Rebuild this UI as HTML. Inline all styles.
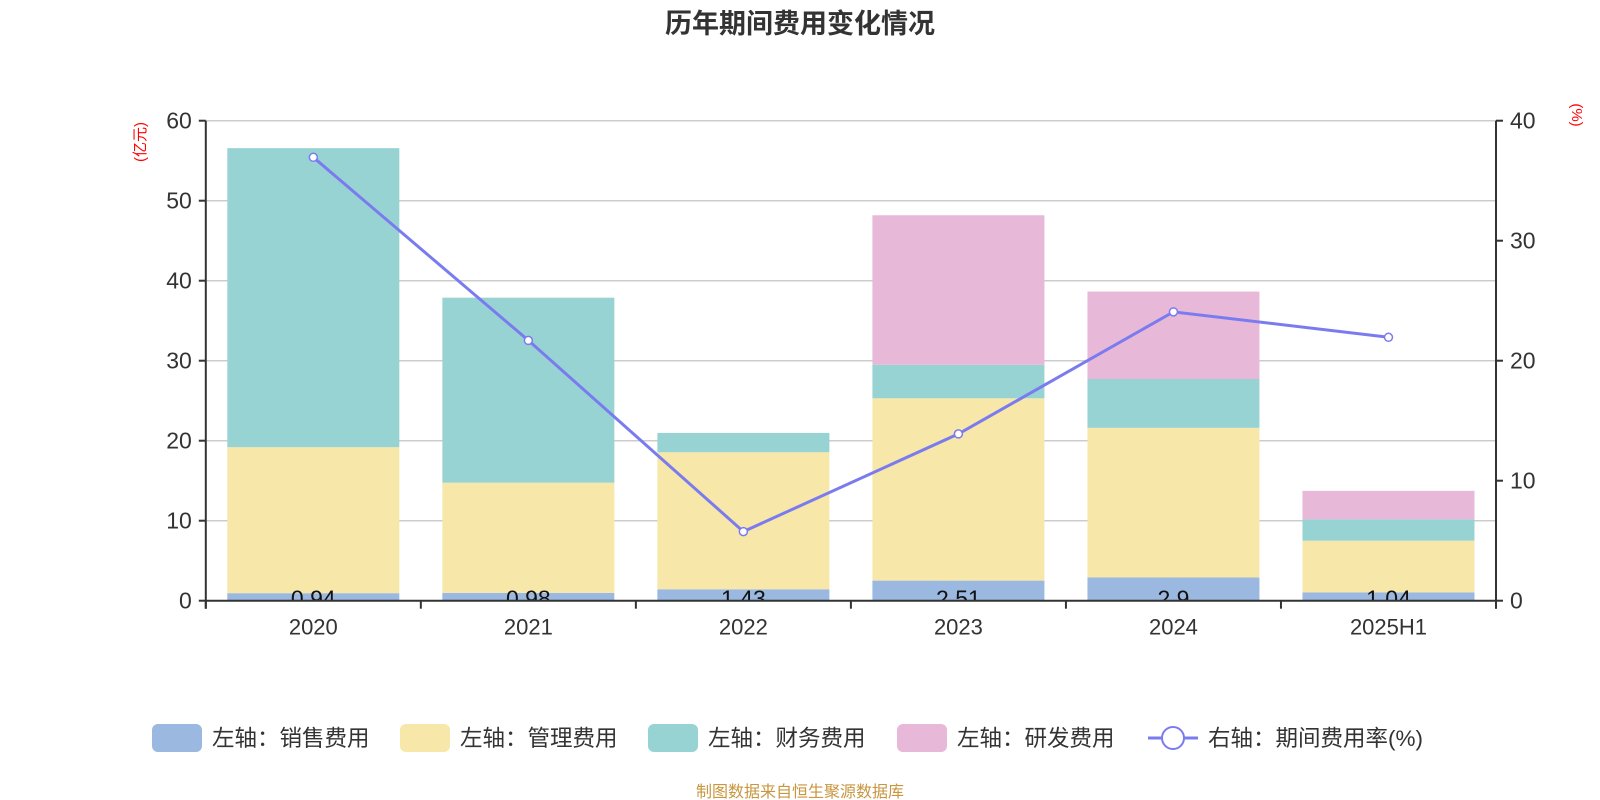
<!DOCTYPE html>
<html><head><meta charset="utf-8">
<style>
body{margin:0;background:#fff;}
svg{display:block;font-family:"Liberation Sans","Noto Sans CJK SC",sans-serif;}
</style></head>
<body>
<svg id="chart" width="1600" height="800">
<text x="800" y="33" text-anchor="middle" font-size="27" font-weight="bold" fill="#333">历年期间费用变化情况</text>
<text transform="translate(145,142) rotate(-90)" text-anchor="middle" font-size="15" fill="#f00">(亿元)</text>
<text transform="translate(1572,115) rotate(90)" text-anchor="middle" font-size="15" fill="#f00">(%)</text>
<g id="grid"></g><g id="bars"></g><g id="axes"></g><g id="line"></g>
<g id="legend"></g>
<text x="800" y="797" text-anchor="middle" font-size="16" fill="#c8963e">制图数据来自恒生聚源数据库</text>
</svg>
<script>
const categories=["2020","2021","2022","2023","2024","2025H1"];
const sales=[0.94,0.98,1.43,2.51,2.9,1.04];
const mgmt=[18.25,13.77,17.13,22.79,18.71,6.46];
const finance=[37.38,23.13,2.41,4.19,6.1,2.67];
const rd=[0,0,0,18.69,10.93,3.56];
const rate=[36.95,21.69,5.76,13.9,24.07,21.95];
const leftTicks=[0,10,20,30,40,50,60];
const rightTicks=[0,10,20,30,40];

const NS="http://www.w3.org/2000/svg";
const X0=205.8,X1=1496,Y0=600.7,Y1=120.7;
const band=(X1-X0)/categories.length,bw=172;
const yL=v=>Y0-(v/60)*(Y0-Y1);
const yR=v=>Y0-(v/40)*(Y0-Y1);
const xC=i=>X0+band*(i+0.5);
function mk(tag,attrs,parent,txt){const e=document.createElementNS(NS,tag);for(const k in attrs)e.setAttribute(k,attrs[k]);if(txt!==undefined)e.textContent=txt;parent.appendChild(e);return e;}
const grid=document.getElementById('grid'),bars=document.getElementById('bars'),axes=document.getElementById('axes'),line=document.getElementById('line'),legend=document.getElementById('legend');
const defs=mk('defs',{},document.getElementById('chart'));
const cp=mk('clipPath',{id:'plotclip'},defs);mk('rect',{x:X0,y:0,width:X1-X0,height:Y0},cp);

leftTicks.forEach(v=>{
 const g=mk('line',{x1:X0,x2:X1,y1:yL(v),y2:yL(v),stroke:'#ccc','stroke-width':1.5},grid);
 
 mk('line',{x1:X0-7,x2:X0,y1:yL(v),y2:yL(v),stroke:'#333','stroke-width':2},axes);
 const t=mk('text',{x:X0-14,y:yL(v)+8,'text-anchor':'end','font-size':23,fill:'#333'},axes,v);
 
});
rightTicks.forEach(v=>{
 mk('line',{x1:X1,x2:X1+7,y1:yR(v),y2:yR(v),stroke:'#333','stroke-width':2},axes);
 const t=mk('text',{x:X1+14,y:yR(v)+8,'font-size':23,fill:'#333'},axes,v);
 
});
mk('line',{x1:X0,x2:X0,y1:Y1,y2:Y0+8,stroke:'#333','stroke-width':2},axes);
mk('line',{x1:X1,x2:X1,y1:Y1,y2:Y0+8,stroke:'#333','stroke-width':2},axes);
mk('line',{x1:X0,x2:X1,y1:Y0,y2:Y0,stroke:'#333','stroke-width':2},axes);
for(let i=0;i<=categories.length;i++)mk('line',{x1:X0+band*i,x2:X0+band*i,y1:Y0,y2:Y0+8,stroke:'#333','stroke-width':2},axes);

const series=[[sales,'#9bb8e0','sales'],[mgmt,'#f7e7a9','mgmt'],[finance,'#97d3d3','finance'],[rd,'#e7b8d8','rd']];
categories.forEach((c,i)=>{
 let acc=0;
 series.forEach(([arr,col,nm])=>{
  const v=arr[i];if(v<=0)return;
  const r=mk('rect',{x:xC(i)-bw/2,y:yL(acc+v),width:bw,height:yL(acc)-yL(acc+v),fill:col},bars);
  
  acc+=v;
 });
 const t=mk('text',{x:xC(i),y:Y0+6,'text-anchor':'middle','font-size':23,fill:'#111','clip-path':'url(#plotclip)'},bars,String(sales[i]));
 
 const xl=mk('text',{x:xC(i),y:Y0+34,'text-anchor':'middle','font-size':22,fill:'#333'},axes,c);
 
});
const pts=rate.map((v,i)=>xC(i)+','+yR(v)).join(' ');
const pl=mk('polyline',{points:pts,fill:'none',stroke:'#7b7bf0','stroke-width':3},line);

rate.forEach((v,i)=>{
 const c=mk('circle',{cx:xC(i),cy:yR(v),r:4,fill:'#fff',stroke:'#7b7bf0','stroke-width':1.5},line);
 
});
const items=[['左轴：销售费用','#9bb8e0',152],['左轴：管理费用','#f7e7a9',400],['左轴：财务费用','#97d3d3',648],['左轴：研发费用','#e7b8d8',897]];
items.forEach(([lab,col,x])=>{
 const g=mk('g',{},legend);
 
 mk('rect',{x:x,y:724,width:50,height:28,rx:6,fill:col},g);
 mk('text',{x:x+60,y:746,'font-size':22.5,fill:'#333'},g,lab);
});
const g=mk('g',{},legend);

mk('line',{x1:1148,x2:1198,y1:738,y2:738,stroke:'#7b7bf0','stroke-width':3},g);
mk('circle',{cx:1173,cy:738,r:11,fill:'#fff',stroke:'#7b7bf0','stroke-width':2},g);
mk('text',{x:1208,y:746,'font-size':22.5,fill:'#333'},g,'右轴：期间费用率(%)');
</script>
</body></html>
